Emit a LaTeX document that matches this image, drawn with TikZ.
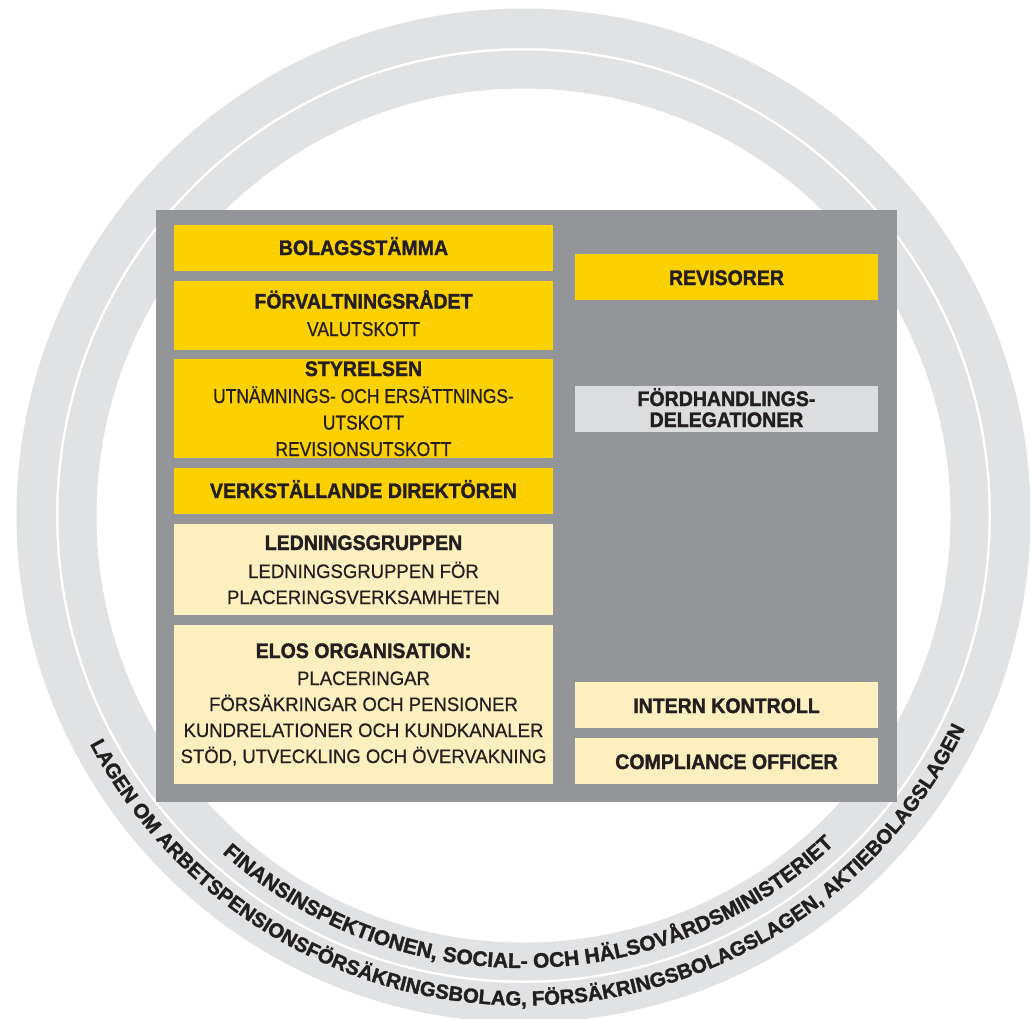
\documentclass[tikz,border=0pt]{standalone}
\usepackage{fontspec}
\setmainfont{Liberation Sans}
\newfontfamily\hdfont{Liberation Sans}[FakeStretch=0.93,FakeBold=1.6]
\newfontfamily\subfont{Liberation Sans}[FakeStretch=0.87,FakeBold=0.6]
\newfontfamily\lightfont{Liberation Sans}[FakeStretch=0.95,FakeBold=0.6]
\newfontfamily\ringfont{Liberation Sans}[FakeBold=1.6]
\usetikzlibrary{decorations.text,calc}
\definecolor{ringgray}{RGB}{225,226,228}
\definecolor{boxgray}{RGB}{147,149,152}
\definecolor{elosyellow}{RGB}{253,208,0}
\definecolor{lightyellow}{RGB}{254,240,190}
\definecolor{lightgray}{RGB}{220,221,223}
\definecolor{ink}{RGB}{35,31,32}
\begin{document}
\begin{tikzpicture}[x=1pt,y=1pt,
  boxbase/.style={rectangle, draw=none, inner sep=0pt, outer sep=0pt},
  leftcol/.style={boxbase, minimum width=379pt},
  rightcol/.style={boxbase, minimum width=303pt},
  ybox/.style={fill=elosyellow},
  lbox/.style={fill=lightyellow},
  gbox/.style={fill=lightgray},
  hd/.style={font=\hdfont\bfseries\fontsize{21}{21}\selectfont, text=ink, inner sep=0pt, anchor=base},
  sub/.style={font=\subfont\fontsize{20}{20}\selectfont, text=ink, inner sep=0pt, anchor=base},
  lite/.style={font=\lightfont\fontsize{19.5}{19.5}\selectfont, text=ink, inner sep=0pt, anchor=base},
  ringtext/.style={decorate, decoration={text along path, text align=center, text={#1}}}
]
\useasboundingbox (0,0) rectangle (1030,-1018);
\clip (0,0) rectangle (1030,-1018);

% rings
\coordinate (c) at (523.5,-515.5);
\fill[ringgray, even odd rule] (c) circle[radius=507] (c) circle[radius=467.5];
\fill[ringgray, even odd rule] (c) circle[radius=465] (c) circle[radius=427];

% ring texts
\path[ringtext={|\ringfont\bfseries\fontsize{21}{21}\selectfont\color{ink}|FINANSINSPEKTIONEN, SOCIAL- OCH HÄLSOVÅRDSMINISTERIET}]
  ($(c)+(180.8:452.5)$) arc[start angle=180.8, end angle=360.8, radius=452.5];
\path[ringtext={|\ringfont\bfseries\fontsize{20.4}{20.4}\selectfont\color{ink}|LAGEN OM ARBETSPENSIONSFÖRSÄKRINGSBOLAG, FÖRSÄKRINGSBOLAGSLAGEN, AKTIEBOLAGSLAGEN}]
  ($(c)+(181:490)$) arc[start angle=181, end angle=361, radius=490];

% frame
\node[boxbase, fill=boxgray, minimum width=741pt, minimum height=592pt] (frame) at (526.5,-506) {};

% left column
\node[leftcol, ybox, minimum height=46pt] (bol) at (363.5,-248) {};
\node[leftcol, ybox, minimum height=69pt] (forv) at (363.5,-315.5) {};
\node[leftcol, ybox, minimum height=99pt] (sty) at (363.5,-408.5) {};
\node[leftcol, ybox, minimum height=46pt] (vd) at (363.5,-491) {};
\node[leftcol, lbox, minimum height=91pt] (led) at (363.5,-569.5) {};
\node[leftcol, lbox, minimum height=159pt] (elos) at (363.5,-704.5) {};

% right column
\node[rightcol, ybox, minimum height=46pt] (rev) at (726.5,-277) {};
\node[rightcol, gbox, minimum height=46pt] (ford) at (726.5,-409) {};
\node[rightcol, lbox, minimum height=46pt] (ik) at (726.5,-705) {};
\node[rightcol, lbox, minimum height=46pt] (co) at (726.5,-761) {};

% texts left
\node[hd] (bolT) at (363.5,-255) {BOLAGSSTÄMMA};
\node[hd] (forvT) at (363.5,-308.5) {FÖRVALTNINGSRÅDET};
\node[sub] (forvS) at (363.5,-336) {VALUTSKOTT};
\node[hd] (styT) at (363.5,-376) {STYRELSEN};
\node[sub] (styS1) at (363.5,-403) {UTNÄMNINGS- OCH ERSÄTTNINGS-};
\node[sub] (styS2) at (363.5,-429.5) {UTSKOTT};
\node[sub] (styS3) at (363.5,-456) {REVISIONSUTSKOTT};
\node[hd] (vdT) at (363.5,-498) {VERKSTÄLLANDE DIREKTÖREN};
\node[hd] (ledT) at (363.5,-550) {LEDNINGSGRUPPEN};
\node[lite] (ledS1) at (363.5,-578) {LEDNINGSGRUPPEN FÖR};
\node[lite] (ledS2) at (363.5,-604) {PLACERINGSVERKSAMHETEN};
\node[hd] (elosT) at (363.5,-658) {ELOS ORGANISATION:};
\node[lite] (elosS1) at (363.5,-685) {PLACERINGAR};
\node[lite] (elosS2) at (363.5,-711) {FÖRSÄKRINGAR OCH PENSIONER};
\node[lite] (elosS3) at (363.5,-737) {KUNDRELATIONER OCH KUNDKANALER};
\node[lite] (elosS4) at (363.5,-763) {STÖD, UTVECKLING OCH ÖVERVAKNING};

% texts right
\node[hd] (revT) at (726.5,-285) {REVISORER};
\node[hd] (fordT1) at (726.5,-406) {FÖRDHANDLINGS-};
\node[hd] (fordT2) at (726.5,-427) {DELEGATIONER};
\node[hd] (ikT) at (726.5,-713) {INTERN KONTROLL};
\node[hd] (coT) at (726.5,-769) {COMPLIANCE OFFICER};
\end{tikzpicture}
\end{document}
